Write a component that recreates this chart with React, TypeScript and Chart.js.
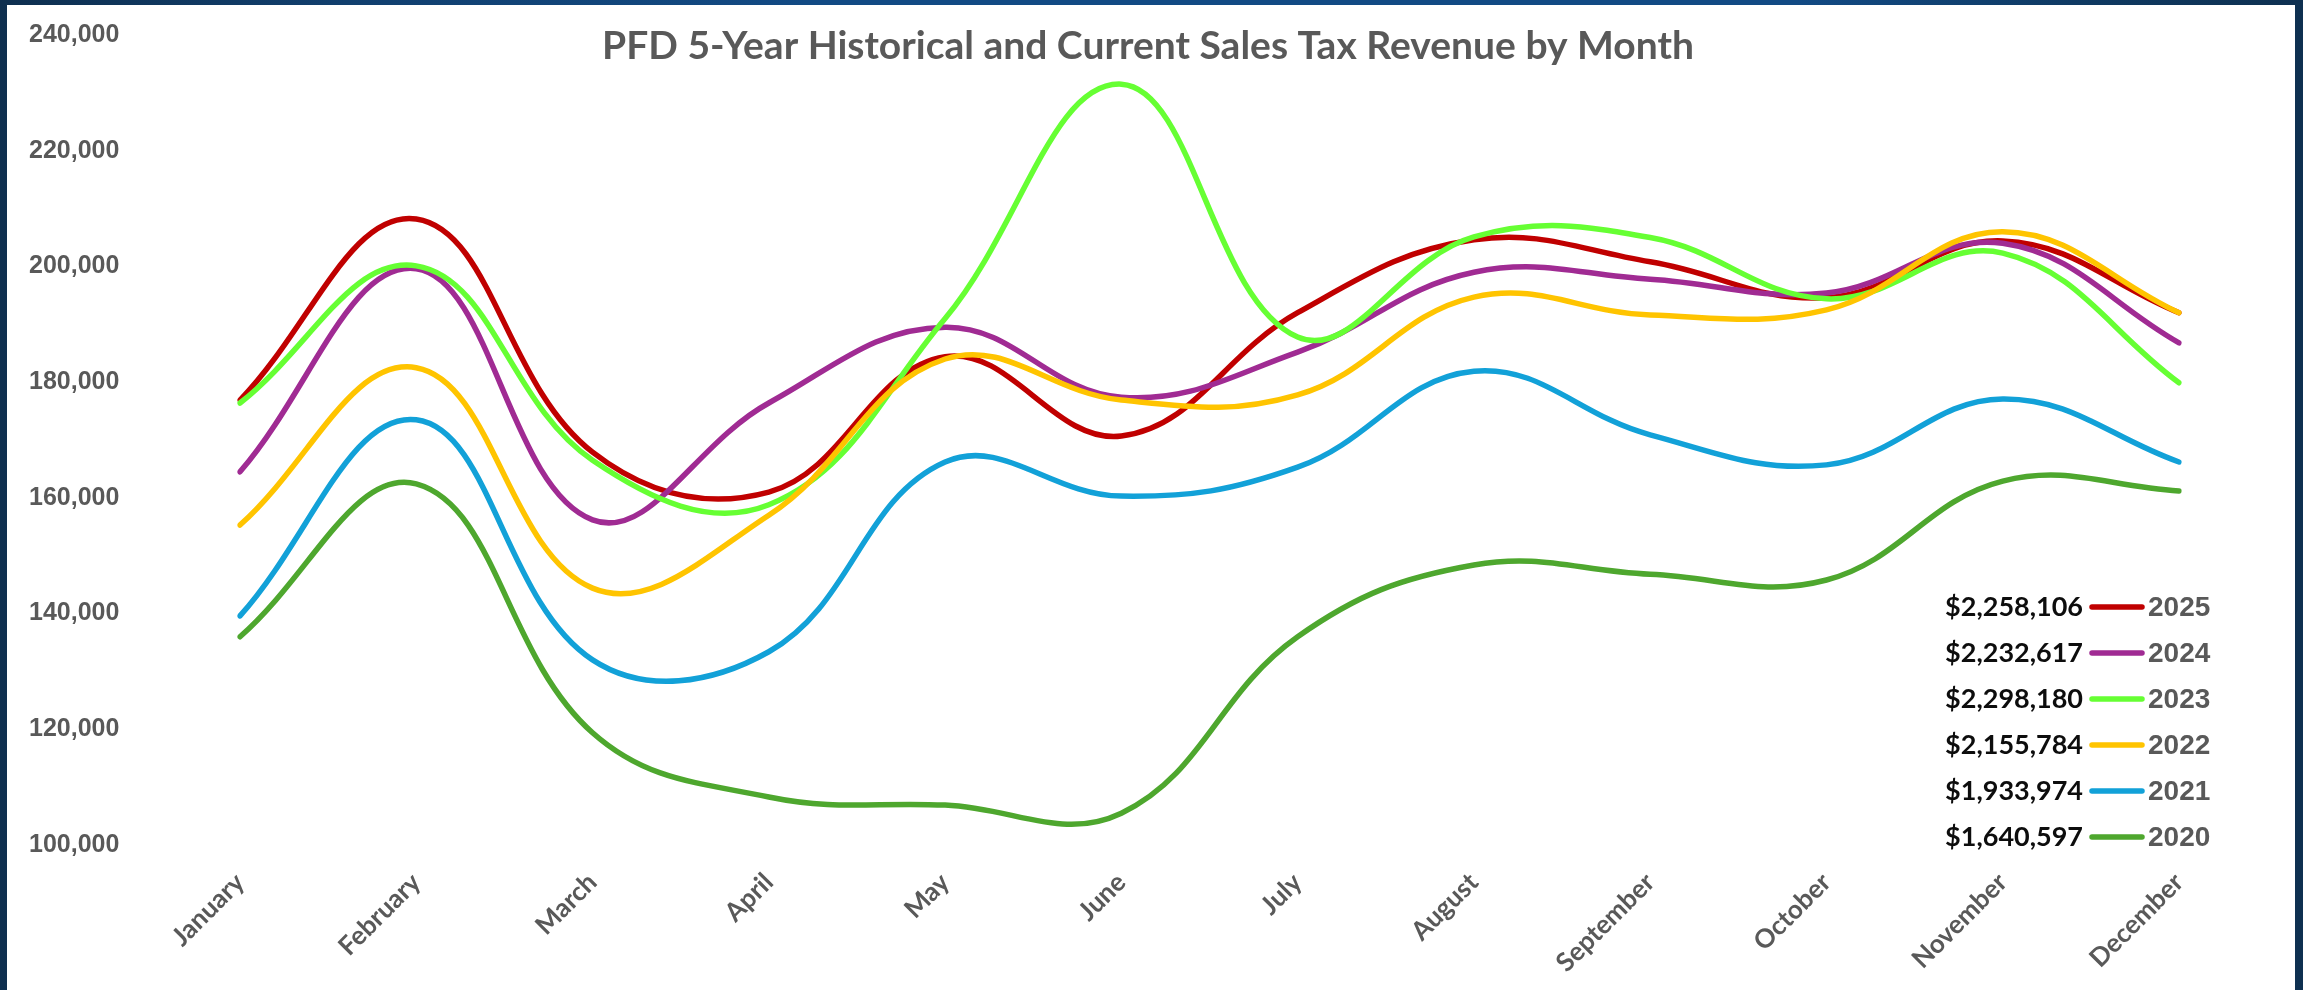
import React, { useEffect, useRef } from "react";
import { Chart, registerables } from "chart.js";

Chart.register(...registerables);

const months = [
  "January", "February", "March", "April", "May", "June",
  "July", "August", "September", "October", "November", "December",
];

const years = ["2025", "2024", "2023", "2022", "2021", "2020"];
const totals = ["$2,258,106", "$2,232,617", "$2,298,180", "$2,155,784", "$1,933,974", "$1,640,597"];

const sales2025 = [176900, 208200, 167900, 161000, 184400, 170700, 192000, 204600, 200800, 194600, 204400, 192000];
const sales2024 = [164500, 199600, 156200, 176400, 189500, 177400, 185200, 199000, 197800, 195400, 204000, 186800];
const sales2023 = [176400, 200100, 166500, 158800, 191000, 231500, 187800, 205100, 205000, 194400, 202300, 179900];
const sales2022 = [155300, 182500, 144400, 157000, 184000, 176900, 177800, 194700, 191600, 192500, 206000, 192000];
const sales2021 = [139600, 173500, 132000, 133400, 166200, 160300, 165300, 181900, 170900, 165700, 177100, 166200];
const sales2020 = [136000, 162400, 119400, 108300, 106900, 105500, 136000, 148400, 146800, 145800, 162900, 161200];

const yTickValues = [100000, 120000, 140000, 160000, 180000, 200000, 220000, 240000];

const seriesValues = [sales2025, sales2024, sales2023, sales2022, sales2021, sales2020];
const seriesColors = ["#C00000", "#A02B93", "#66FF33", "#FFC400", "#12A1D8", "#4EA72E"];

const titleText = "PFD 5-Year Historical and Current Sales Tax Revenue by Month";

const overlayPlugin = {
  id: "overlay",
  afterDraw(chart: any) {
    const ctx = chart.ctx as CanvasRenderingContext2D;
    ctx.save();
    ctx.fillStyle = "#595959";
    ctx.font = "bold 39px Lato";
    ctx.textAlign = "center";
    ctx.textBaseline = "middle";
    ctx.fillText(titleText, 1141, 41);

    years.forEach((yr, i) => {
      const y = 602 + i * 46;
      ctx.textBaseline = "middle";
      ctx.font = "bold 27px Lato";
      ctx.fillStyle = "#0d0d0d";
      ctx.textAlign = "right";
      ctx.fillText(totals[i], 2076, y);
      ctx.strokeStyle = seriesColors[i];
      ctx.lineWidth = 5.5;
      ctx.lineCap = "round";
      ctx.beginPath();
      ctx.moveTo(2085, y);
      ctx.lineTo(2135, y);
      ctx.stroke();
      ctx.font = 'bold 28px "Liberation Sans"';
      ctx.fillStyle = "#595959";
      ctx.textAlign = "left";
      ctx.fillText(yr, 2141, y + 1);
    });
    ctx.restore();
  },
};

export default function App() {
  const canvasRef = useRef<HTMLCanvasElement | null>(null);

  useEffect(() => {
    if (!canvasRef.current) return;
    const chart = new Chart(canvasRef.current, {
      type: "line",
      data: {
        labels: months,
        datasets: years.map((yr, i) => ({
          label: yr,
          data: seriesValues[i],
          borderColor: seriesColors[i],
          backgroundColor: seriesColors[i],
          borderWidth: 5.5,
          pointRadius: 0,
          pointHoverRadius: 0,
          fill: false,
          tension: 0.4,
          borderCapStyle: "round" as const,
          borderJoinStyle: "round" as const,
          order: years.length - 1 - i,
        })),
      },
      options: {
        animation: false,
        responsive: false,
        devicePixelRatio: 1,
        events: [],
        layout: { padding: { top: 30, left: 22, right: 116, bottom: 0 } },
        plugins: {
          legend: { display: false },
          title: { display: false },
          tooltip: { enabled: false },
        },
        scales: {
          x: {
            grid: { display: false, drawTicks: false },
            border: { display: false },
            ticks: {
              color: "#595959",
              font: { family: "Lato", size: 26, weight: "bold" },
              minRotation: 45,
              maxRotation: 45,
              autoSkip: false,
              padding: 22,
            },
            afterFit: (s: any) => {
              s.height = 145;
            },
          },
          y: {
            min: 100000,
            max: 240000,
            grid: { display: false, drawTicks: false },
            border: { display: false },
            ticks: {
              color: "#595959",
              font: { family: '"Liberation Sans"', size: 25, weight: "bold" },
              crossAlign: "far",
              padding: 0,
              callback: (v: any) => Number(v).toLocaleString("en-US"),
            },
            afterBuildTicks: (s: any) => {
              s.ticks = yTickValues.map((v) => ({ value: v }));
            },
            afterFit: (s: any) => {
              s.width = 211;
            },
          },
        },
      },
      plugins: [overlayPlugin],
    });
    return () => chart.destroy();
  }, []);

  return (
    <div
      style={{
        position: "fixed",
        left: 0,
        top: 0,
        width: 2303,
        height: 990,
        background:
          "linear-gradient(90deg, #0e2f4f 0%, #113f6e 15%, #124a84 35%, #124a84 78%, #0f3a63 90%, #0e3050 100%)",
        overflow: "hidden",
      }}
    >
      <div
        style={{
          position: "absolute",
          left: 7,
          top: 5,
          width: 2288,
          height: 985,
          background: "#ffffff",
        }}
      >
        <canvas ref={canvasRef} width={2288} height={985} style={{ display: "block" }} />
      </div>
    </div>
  );
}
